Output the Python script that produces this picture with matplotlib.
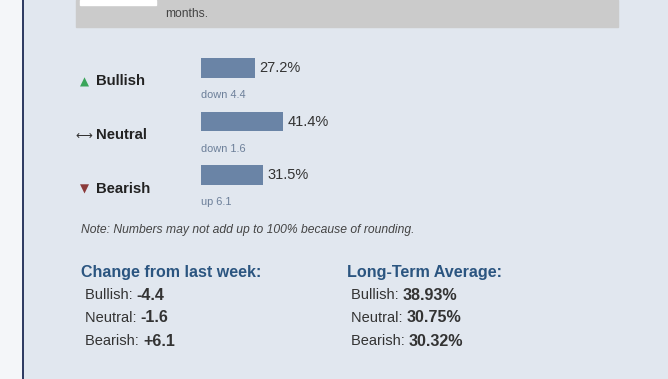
import numpy as np
import matplotlib.pyplot as plt
from matplotlib.patches import Rectangle

plt.rcParams['font.family'] = ['Liberation Sans', 'DejaVu Sans']

categories = ['Bullish', 'Neutral', 'Bearish']
values = [27.2, 41.4, 31.5]
changes_text = ['down 4.4', 'down 1.6', 'up 6.1']
changes = ['-4.4', '-1.6', '+6.1']
averages = ['38.93%', '30.75%', '30.32%']

W, H = 668, 379
BG = '#e1e7ef'
BAR = '#6a84a6'

fig = plt.figure(figsize=(W / 100, H / 100), dpi=100)
fig.patch.set_facecolor('#f4f6f9')

# page overlay in pixel coordinates
page = fig.add_axes([0, 0, 1, 1])
page.set_xlim(0, W)
page.set_ylim(H, 0)
page.axis('off')
page.add_patch(Rectangle((23, 0), W - 23, H, color=BG, zorder=0))
page.plot([22.5, 22.5], [0, H], color='#1c2a55', lw=1.3)
page.add_patch(Rectangle((76, 0), 542, 27, color='#cbcbcb', zorder=1))
page.add_patch(Rectangle((80, 0), 76, 5, color='white', zorder=2))
page.text(165, 14, 'months.', fontsize=8.7, color='#444444', va='center')

# category labels with icons
label_y = [81, 135, 189]
page.text(84, label_y[0] + 1, '▲', fontsize=8.5, color='#3aa55a', ha='center', va='center',
          family=['DejaVu Sans'])
page.text(84, label_y[1], '⟷', fontsize=8.5, color='#333333', ha='center', va='center',
          family=['DejaVu Sans'])
page.text(84, label_y[2], '▼', fontsize=8.5, color='#8b3a3a', ha='center', va='center',
          family=['DejaVu Sans'])
for cat, y in zip(categories, label_y):
    page.text(96, y, cat, fontsize=10.7, fontweight='bold', color='#222222', va='center')

# bars
ax = fig.add_axes([201 / W, 1 - 201.75 / H, 198 / W, 160.5 / H])
ax.set_xlim(0, 100)
ax.set_ylim(2.5, -0.5)
ax.axis('off')
pos = np.arange(len(categories))
ax.barh(pos, values, height=0.37, color=BAR)
for p, v, t in zip(pos, values, changes_text):
    ax.annotate(f'{v}%', (v, p), xytext=(3, 0), textcoords='offset points',
                fontsize=10.5, color='#333333', va='center')
    ax.annotate(t, (0, p), xytext=(0, -19.5), textcoords='offset points',
                fontsize=7.9, color='#6c7f99', va='center')

page.text(81, 230, 'Note: Numbers may not add up to 100% because of rounding.',
          fontsize=8.7, style='italic', color='#444444', va='center')

# summary blocks
page.text(81, 272, 'Change from last week:', fontsize=11.5, fontweight='bold',
          color='#2b5580', va='center')
page.text(347, 272, 'Long-Term Average:', fontsize=11.6, fontweight='bold',
          color='#2b5580', va='center')
rows_y = [295, 318, 341]
for cat, c, a, y in zip(categories, changes, averages, rows_y):
    t = page.text(85, y, cat + ': ', fontsize=10.5, color='#333333', va='center')
    page.annotate(c, xycoords=t, xy=(1, 0.5), va='center', fontsize=11.6,
                  fontweight='bold', color='#333333')
    t2 = page.text(351, y, cat + ': ', fontsize=10.5, color='#333333', va='center')
    page.annotate(a, xycoords=t2, xy=(1, 0.5), va='center', fontsize=11.6,
                  fontweight='bold', color='#333333')

fig.savefig('out.png', dpi=100, facecolor=fig.get_facecolor())
